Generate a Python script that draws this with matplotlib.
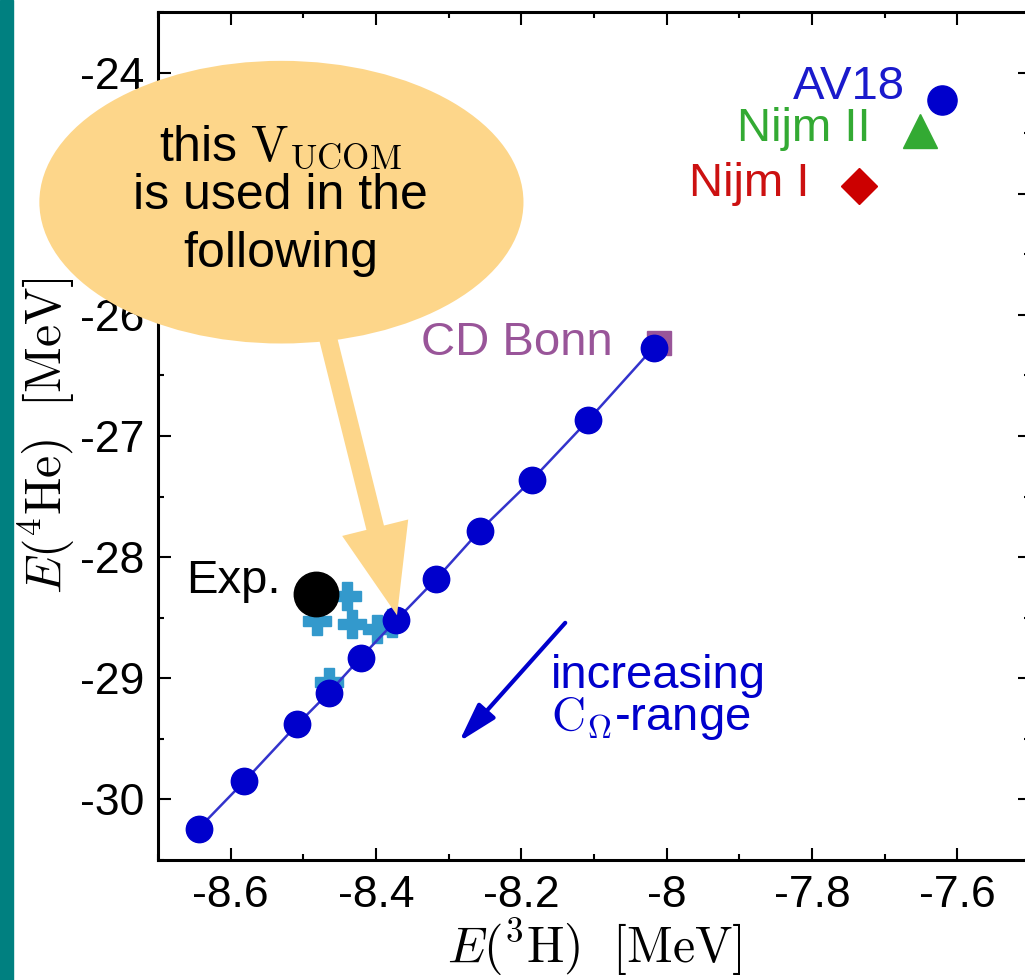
import matplotlib
matplotlib.use("Agg")
import matplotlib.pyplot as plt
from matplotlib.patches import Ellipse, FancyArrowPatch

plt.rcParams['font.family'] = ['Liberation Sans', 'DejaVu Sans']
plt.rcParams['mathtext.fontset'] = 'cm'

# UCOM chain, E(3H) vs E(4He) in MeV
ucom_h3 = [-8.644, -8.581, -8.508, -8.465, -8.421, -8.372, -8.317, -8.257, -8.185, -8.108, -8.018]
ucom_he4 = [-30.24, -29.85, -29.38, -29.12, -28.83, -28.52, -28.18, -27.78, -27.36, -26.87, -26.27]

# light blue crosses
cross_h3 = [-8.440, -8.481, -8.433, -8.399, -8.465, -8.378]
cross_he4 = [-28.32, -28.53, -28.55, -28.59, -29.03, -28.54]

# bare potentials
pot_names = ['AV18', 'Nijm II', 'Nijm I', 'CD Bonn']
pot_h3 = [-7.621, -7.651, -7.735, -8.010]
pot_he4 = [-24.23, -24.48, -24.94, -26.23]

exp_h3 = -8.482
exp_he4 = -28.30

fig = plt.figure(figsize=(10.25, 9.8), dpi=100)
fig.patches.append(plt.Rectangle((0, 0), 13 / 1025, 1, transform=fig.transFigure,
                                 color='#008080', zorder=0))
ax = fig.add_axes([0.154, 0.1224, 0.851, 0.8654])

ax.plot(cross_h3, cross_he4, ls='none', marker='P', ms=20, color='#3399cc',
        mec='#3399cc', zorder=3)
ax.plot(pot_h3[3], pot_he4[3], ls='none', marker='s', ms=17, color='#995599', zorder=3)
ax.plot(ucom_h3, ucom_he4, '-', color='#3333cc', lw=1.8, marker='o', ms=19,
        mfc='#0000cc', mec='#0000cc', zorder=4)
ax.plot(exp_h3, exp_he4, 'o', color='black', ms=32, zorder=5)
ax.plot(pot_h3[0], pot_he4[0], 'o', color='#0000cc', ms=21, zorder=4)
ax.plot(pot_h3[1], pot_he4[1], '^', color='#33aa33', ms=24, zorder=4)
ax.plot(pot_h3[2], pot_he4[2], 'D', color='#cc0000', ms=18, zorder=4)

fs = 34
ax.text(-7.672, -24.12, 'AV18', color='#1a1acc', fontsize=fs, ha='right', va='center')
ax.text(-7.720, -24.47, 'Nijm II', color='#33aa33', fontsize=fs, ha='right', va='center')
ax.text(-7.803, -24.92, 'Nijm I', color='#cc1111', fontsize=fs, ha='right', va='center')
ax.text(-8.074, -26.23, 'CD Bonn', color='#995599', fontsize=fs, ha='right', va='center')
ax.text(-8.531, -28.20, 'Exp.', color='black', fontsize=fs, ha='right', va='center')

# blue arrow with label
ax.add_patch(FancyArrowPatch((-8.137, -28.525), (-8.288, -29.54),
                             arrowstyle='-|>,head_length=1.2,head_width=0.35',
                             mutation_scale=20, color='#0000cc', lw=3, zorder=4))
ax.text(-8.159, -28.98, 'increasing', color='#0000cc', fontsize=fs, ha='left', va='center')
ax.text(-8.159, -29.33, r'$\mathrm{C}_\Omega$-range', color='#0000cc', fontsize=fs,
        ha='left', va='center')

# callout bubble
ax.add_patch(Ellipse((-8.530, -25.07), 0.666, 2.333, facecolor='#fdd68a', edgecolor='none',
                     clip_on=False, zorder=6))
ax.add_patch(FancyArrowPatch((-8.478, -25.9), (-8.371, -28.48),
                             arrowstyle='simple,head_length=65,head_width=49,tail_width=13',
                             mutation_scale=1, color='#fdd68a', lw=0, zorder=6,
                             shrinkA=0, shrinkB=0))
fe = 36
ax.text(-8.531, -24.62, r'this $\mathrm{V}_{\mathrm{UCOM}}$', fontsize=fe, ha='center',
        va='center', zorder=7)
ax.text(-8.531, -25.02, 'is used in the', fontsize=fe, ha='center', va='center', zorder=7)
ax.text(-8.531, -25.50, 'following', fontsize=fe, ha='center', va='center', zorder=7)

ax.set_xlim(-8.7, -7.5)
ax.set_ylim(-30.5, -23.5)
ax.set_xticks([-8.6, -8.4, -8.2, -8.0, -7.8, -7.6])
ax.set_xticklabels(['-8.6', '-8.4', '-8.2', '-8', '-7.8', '-7.6'])
ax.set_xticks([-8.7, -8.5, -8.3, -8.1, -7.9, -7.7, -7.5], minor=True)
ax.set_yticks([-30, -29, -28, -27, -26, -25, -24])
ax.set_yticklabels(['-30', '-29', '-28', '-27', '-26', '-25', '-24'])
ax.set_yticks([-30.5, -29.5, -28.5, -27.5, -26.5, -25.5, -24.5, -23.5], minor=True)
ax.tick_params(which='both', direction='in', top=True, right=True, width=1.5,
               labelsize=32)
ax.tick_params(which='major', length=9)
ax.tick_params(which='minor', length=4.5)
ax.tick_params(axis='x', pad=11)
ax.tick_params(axis='y', pad=10)
for s in ax.spines.values():
    s.set_linewidth(2.2)

ax.set_xlabel(r'$E(^3\mathrm{H})\ \ [\mathrm{MeV}]$', fontsize=36, labelpad=0)
ax.set_ylabel(r'$E(^4\mathrm{He})\ \ [\mathrm{MeV}]$', fontsize=36, labelpad=2)

plt.savefig('out.png', dpi=100)
